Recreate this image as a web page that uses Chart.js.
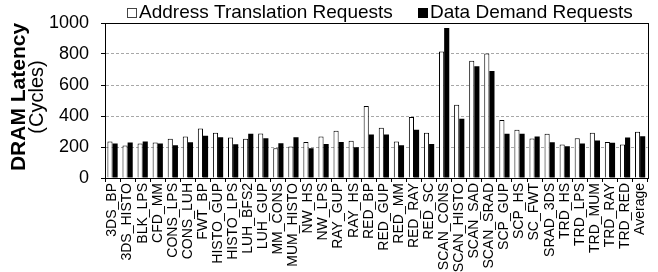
<!DOCTYPE html>
<html>
<head>
<meta charset="utf-8">
<script src="https://cdn.jsdelivr.net/npm/chart.js@4"></script>
<style>
  body { margin: 0; background: #fff; }
</style>
</head>
<body>
<canvas id="latencyChart" width="658" height="272"></canvas>
<script>
let benchmarks = ["3DS_BP", "3DS_HISTO", "BLK_LPS", "CFD_MM", "CONS_LPS", "CONS_LUH", "FWT_BP",
    "HISTO_GUP", "HISTO_LPS", "LUH_BFS2", "LUH_GUP", "MM_CONS", "MUM_HISTO", "NW_HS", "NW_LPS",
    "RAY_GUP", "RAY_HS", "RED_BP", "RED_GUP", "RED_MM", "RED_RAY", "RED_SC", "SCAN_CONS",
    "SCAN_HISTO", "SCAN_SAD", "SCAN_SRAD", "SCP_GUP", "SCP_HS", "SC_FWT", "SRAD_3DS", "TRD_HS",
    "TRD_LPS", "TRD_MUM", "TRD_RAY", "TRD_RED", "Average"];
let addressTranslation = [235, 210, 222, 229, 253, 268, 320, 292, 261, 253, 287, 192, 203, 233, 268,
    305, 240, 464, 324, 235, 393, 292, 816, 473, 756, 803, 374, 311, 255, 285, 216,
    257, 292, 233, 216, 298];
let dataDemand = [222, 229, 235, 222, 212, 231, 272, 263, 218, 285, 257, 225, 263, 192, 220,
    233, 199, 281, 281, 212, 311, 220, 968, 382, 721, 691, 285, 285, 268, 231, 205,
    222, 242, 227, 261, 270];
let yMax = 1000;
let yStep = 200;

let fontFamily = "'Liberation Sans', Arial, sans-serif";

// frame round the plot area, two-line y title and the small legend on top
const framePlugin = {
    id: "frame",
    afterDraw(chart) {
        const ctx = chart.ctx;
        const a = chart.chartArea;
        ctx.save();
        ctx.strokeStyle = "#000";
        ctx.lineWidth = 1;
        ctx.strokeRect(Math.round(a.left) + 0.5, Math.round(a.top) + 0.5,
            Math.round(a.right - a.left), Math.round(a.bottom - a.top));

        // legend
        const ds = chart.data.datasets;
        const items = [{ x: 127, textX: 139 }, { x: 418, textX: 430 }];
        ctx.font = "19px " + fontFamily;
        ctx.textBaseline = "alphabetic";
        ctx.textAlign = "left";
        items.forEach((it, i) => {
            ctx.fillStyle = ds[i].backgroundColor;
            ctx.fillRect(it.x + 0.5, 8.5, 9, 9);
            ctx.strokeStyle = i === 0 ? "#444" : "#000";
            ctx.strokeRect(it.x + 0.5, 8.5, 9, 9);
            ctx.fillStyle = "#000";
            ctx.fillText(ds[i].label, it.textX, 18);
        });

        // y title
        ctx.fillStyle = "#000";
        ctx.textAlign = "center";
        ctx.textBaseline = "middle";
        ctx.translate(0, 97);
        ctx.rotate(-Math.PI / 2);
        ctx.font = "bold 21px " + fontFamily;
        ctx.fillText("DRAM Latency", 0, 19);
        ctx.font = "20px " + fontFamily;
        ctx.fillText("(Cycles)", 0, 37);
        ctx.restore();
    }
};

new Chart("latencyChart", {
    type: "bar",
    data: {
        labels: benchmarks,
        datasets: [{
            label: "Address Translation Requests",
            data: addressTranslation,
            backgroundColor: "#ffffff",
            borderColor: "#000000",
            borderWidth: 1
        }, {
            label: "Data Demand Requests",
            data: dataDemand,
            backgroundColor: "#000000",
            borderColor: "#000000",
            borderWidth: 0
        }]
    },
    options: {
        responsive: false,
        animation: false,
        layout: { padding: { left: 0, right: 7, top: 23, bottom: 0 } },
        datasets: {
            bar: { categoryPercentage: 0.68, barPercentage: 1.0 }
        },
        plugins: {
            legend: { display: false },
            tooltip: { enabled: false }
        },
        scales: {
            x: {
                grid: {
                    display: true,
                    drawOnChartArea: false,
                    drawTicks: true,
                    tickLength: 4,
                    tickColor: "#000",
                    offset: true
                },
                border: { display: true, color: "#000" },
                ticks: {
                    color: "#000",
                    font: { family: fontFamily, size: 14 },
                    maxRotation: 90,
                    minRotation: 90,
                    autoSkip: false,
                    padding: 1
                },
                afterFit(scale) { scale.height = 94; }
            },
            y: {
                min: 0,
                max: yMax,
                ticks: {
                    stepSize: yStep,
                    color: "#000",
                    font: { family: fontFamily, size: 18 },
                    padding: 12,
                    callback: (v) => String(v)
                },
                grid: {
                    drawTicks: true,
                    tickLength: 4,
                    tickColor: "#000",
                    color: (c) => (c.tick && (c.tick.value === 0 || c.tick.value === yMax)) ? "rgba(0,0,0,0)" : "#a8a8a8",
                    lineWidth: 1
                },
                border: { display: true, color: "#000", dash: [3, 2] },
                afterFit(scale) { scale.width = 105; }
            }
        }
    },
    plugins: [framePlugin]
});
</script>
</body>
</html>
